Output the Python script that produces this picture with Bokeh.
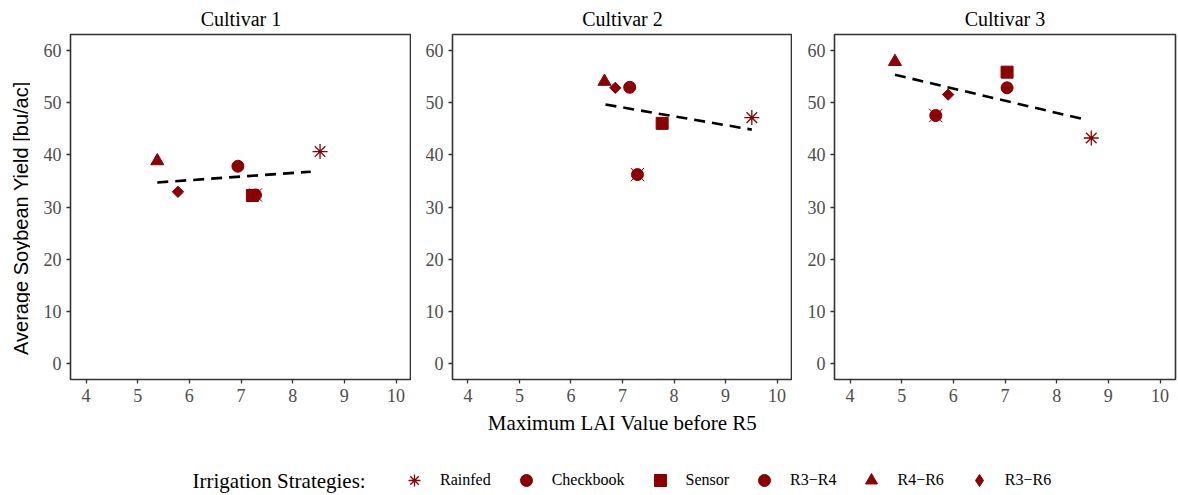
import math
from bokeh.plotting import figure
from bokeh.layouts import row, column
from bokeh.models import Range1d, Legend, LegendItem, Label, FixedTicker
from bokeh.embed import file_html
from bokeh.resources import INLINE

# ---------------- data ----------------
cultivars = ["Cultivar 1", "Cultivar 2", "Cultivar 3"]
strategies = ["Rainfed", "Checkbook", "Sensor", "R3\u2212R4", "R4\u2212R6", "R3\u2212R6"]

c1_lai = [8.53, 7.28, 7.22, 6.94, 5.38, 5.78]
c1_yield = [40.6, 32.3, 32.2, 37.8, 38.8, 32.9]
c2_lai = [9.51, 7.29, 7.77, 7.14, 6.65, 6.86]
c2_yield = [47.1, 36.2, 46.0, 52.9, 54.0, 52.8]
c3_lai = [8.67, 5.66, 7.04, 7.04, 4.87, 5.90]
c3_yield = [43.2, 47.5, 55.8, 52.8, 57.8, 51.5]

# fitted trend lines (end points)
c1_fit_lai = [5.38, 8.35]
c1_fit_yield = [34.7, 36.75]
c2_fit_lai = [6.67, 9.51]
c2_fit_yield = [49.6, 44.8]
c3_fit_lai = [4.87, 8.56]
c3_fit_yield = [55.3, 46.7]

x_ticks = [4, 5, 6, 7, 8, 9, 10]
y_ticks = [0, 10, 20, 30, 40, 50, 60]

RED = "#8B0000"
SERIF = "Liberation Serif"
SANS = "Liberation Sans"

FRAME_H = 345
TOP = 34
BOTTOM = 70
ROW_H = TOP + FRAME_H + BOTTOM
NAN = float("nan")


def add_markers(p, lai, yld, legend=False):
    rs = []
    # Rainfed
    rs.append([p.scatter(x=[lai[0]], y=[yld[0]], marker="asterisk", size=15,
                         line_color=RED, line_width=1.3)])
    # Checkbook (circle with a cross)
    r1 = p.scatter(x=[lai[1]], y=[yld[1]], marker="x", size=19, line_color=RED, line_width=1.0)
    r2 = p.scatter(x=[lai[1]], y=[yld[1]], marker="circle", size=12,
                   fill_color=RED, line_color=RED)
    rs.append([r1, r2])
    # Sensor
    rs.append([p.scatter(x=[lai[2]], y=[yld[2]], marker="square", size=12,
                         fill_color=RED, line_color=RED)])
    # R3-R4
    rs.append([p.scatter(x=[lai[3]], y=[yld[3]], marker="circle", size=12,
                         fill_color=RED, line_color=RED)])
    # R4-R6
    rs.append([p.scatter(x=[lai[4]], y=[yld[4]], marker="triangle", size=13,
                         fill_color=RED, line_color=RED)])
    # R3-R6
    if legend:
        rs.append([p.scatter(x=[lai[5]], y=[yld[5]], marker="diamond", size=12,
                             fill_color=RED, line_color=RED)])
    else:
        rs.append([p.scatter(x=[lai[5]], y=[yld[5]], marker="square", size=8,
                             angle=math.pi / 4, fill_color=RED, line_color=RED)])
    return rs


def make_panel(title, lai, yld, fx, fy, left, fw, right, xlabel=None):
    p = figure(frame_width=fw, frame_height=FRAME_H,
               x_range=Range1d(3.7, 10.3), y_range=Range1d(-3, 63),
               min_border_left=left, min_border_right=right,
               min_border_top=TOP, min_border_bottom=BOTTOM,
               output_backend="svg", toolbar_location=None)
    p.title.text = title
    p.title.align = "center"
    p.title.text_font = SERIF
    p.title.text_font_size = "20px"
    p.title.text_font_style = "normal"
    p.title.text_color = "black"
    p.title.standoff = 9
    p.grid.visible = False
    p.outline_line_color = "#333333"
    p.outline_line_width = 1.6
    p.background_fill_color = "white"
    p.border_fill_color = "white"
    p.xaxis.ticker = FixedTicker(ticks=x_ticks)
    p.yaxis.ticker = FixedTicker(ticks=y_ticks)
    for ax in (p.xaxis[0], p.yaxis[0]):
        ax.axis_line_color = None
        ax.major_tick_line_color = "#333333"
        ax.major_tick_line_width = 1.3
        ax.major_tick_out = 4
        ax.major_tick_in = 0
        ax.minor_tick_line_color = None
        ax.major_label_text_font = SERIF
        ax.major_label_text_font_size = "18px"
        ax.major_label_text_color = "#4D4D4D"
        ax.major_label_standoff = 5
    if xlabel:
        p.xaxis.axis_label = xlabel
        p.xaxis.axis_label_text_font = SERIF
        p.xaxis.axis_label_text_font_size = "21px"
        p.xaxis.axis_label_text_font_style = "normal"
        p.xaxis.axis_label_text_color = "black"
        p.xaxis.axis_label_standoff = 6
    add_markers(p, lai, yld)
    p.line(x=fx, y=fy, line_color="black", line_width=2.6, line_dash="11 7")
    return p


# narrow strip holding the shared y-axis title
YW = 30
p0 = figure(width=YW, height=ROW_H, x_range=Range1d(0, YW), y_range=Range1d(0, ROW_H),
            min_border=0, x_axis_location=None, y_axis_location=None,
            output_backend="svg", toolbar_location=None)
p0.grid.visible = False
p0.outline_line_color = None
p0.add_layout(Label(x=20, y=ROW_H - 239, text="Average Soybean Yield [bu/ac]",
                    angle=math.pi / 2, text_font=SANS, text_font_size="20px",
                    text_align="center", text_baseline="middle", text_color="black"))

p1 = make_panel(cultivars[0], c1_lai, c1_yield, c1_fit_lai, c1_fit_yield, 70 - YW, 341, 0)
p2 = make_panel(cultivars[1], c2_lai, c2_yield, c2_fit_lai, c2_fit_yield, 41, 340, 0,
                xlabel="Maximum LAI Value before R5")
p3 = make_panel(cultivars[2], c3_lai, c3_yield, c3_fit_lai, c3_fit_yield, 42, 341, 3)

# ---------------- legend strip ----------------
LW, LH = 1178, 46
pl = figure(width=LW, height=LH, x_range=Range1d(0, LW), y_range=Range1d(0, LH),
            min_border=0, x_axis_location=None, y_axis_location=None,
            output_backend="svg", toolbar_location=None)
pl.grid.visible = False
pl.outline_line_color = None
# legend-only renderers (no visible data)
lr = add_markers(pl, [NAN] * 6, [NAN] * 6, legend=True)

legend = Legend(items=[LegendItem(label=s, renderers=r) for s, r in zip(strategies, lr)],
                orientation="horizontal", location=(399, 0), margin=0, padding=0,
                glyph_width=30, glyph_height=30, label_standoff=11, spacing=20,
                label_text_font=SERIF, label_text_font_size="16px",
                label_text_color="black", background_fill_alpha=0,
                border_line_color=None)
pl.add_layout(legend)
pl.add_layout(Label(x=192, y=15, text="Irrigation Strategies:", text_font=SERIF,
                    text_font_size="21px", text_baseline="middle", text_color="black"))

layout = column(row(p0, p1, p2, p3, spacing=0), pl, spacing=0)

open("out.html", "w").write(file_html(layout, INLINE))
